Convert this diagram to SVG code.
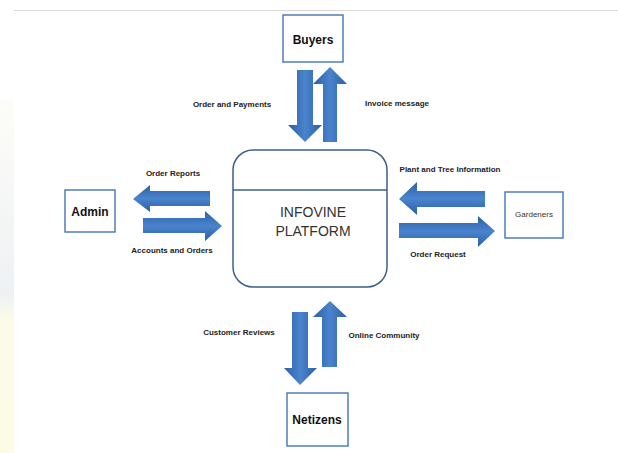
<svg xmlns="http://www.w3.org/2000/svg" width="618" height="453" viewBox="0 0 618 453">
<defs>
<linearGradient id="gv" x1="0" y1="0" x2="1" y2="0">
<stop offset="0" stop-color="#2c5fa8"/><stop offset="0.5" stop-color="#4a84cc"/><stop offset="1" stop-color="#2c5fa8"/>
</linearGradient>
<linearGradient id="gh" x1="0" y1="0" x2="0" y2="1">
<stop offset="0" stop-color="#2c5fa8"/><stop offset="0.5" stop-color="#4a84cc"/><stop offset="1" stop-color="#2c5fa8"/>
</linearGradient>
<linearGradient id="strip" x1="0" y1="0" x2="0" y2="1">
<stop offset="0" stop-color="#fdfdf8"/><stop offset="0.55" stop-color="#eef1f4"/><stop offset="0.62" stop-color="#fbfbe8"/><stop offset="1" stop-color="#fbfbe6"/>
</linearGradient>
</defs>
<style>
.box{fill:#fff;stroke:#4f7fb8;stroke-width:1.5}
.plat{fill:#fff;stroke:#3d5f8a;stroke-width:1.5}
.lbl{font-family:"Liberation Sans",Arial,sans-serif;font-size:8px;font-weight:bold;fill:#222;text-anchor:middle}
.name{font-family:"Liberation Sans",Arial,sans-serif;font-size:12px;font-weight:bold;fill:#111;text-anchor:middle}
.small{font-family:"Liberation Sans",Arial,sans-serif;font-size:8px;fill:#333;text-anchor:middle}
.big{font-family:"Liberation Sans",Arial,sans-serif;font-size:14px;fill:#333;text-anchor:middle}
.av{fill:url(#gv)}
.ah{fill:url(#gh)}
</style>
<rect width="618" height="453" fill="#fff"/>
<rect x="0" y="100" width="14" height="353" fill="url(#strip)"/>
<line x1="14" y1="10.5" x2="618" y2="10.5" stroke="#d8d8d8" stroke-width="1"/>

<g id="connectors">
<!-- Buyers -->
<path class="av" d="M297,70 H313 V125 H322 L305,142 L288,125 H297 Z"/>
<path class="av" d="M323,142 V84 H313 L330,67 L347,84 H337 V142 Z"/>
<!-- Admin -->
<path class="ah" d="M210,191 V206 H150 V212 L133,199 L150,185 V191 Z"/>
<path class="ah" d="M143,218 H205 V211 L222,226 L205,241 V233 H143 Z"/>
<!-- Gardeners -->
<path class="ah" d="M485,191 V207 H417 V215 L399,199 L417,182 V191 Z"/>
<path class="ah" d="M399,223 H478 V216 L495,231 L478,247 V238 H399 Z"/>
<!-- Netizens -->
<path class="av" d="M292,312 H308 V368 H317 L300,385 L284,368 H292 Z"/>
<path class="av" d="M322,367 V317 H313 L330,301 L347,317 H337 V367 Z"/>
</g>

<g id="labels">
<text class="lbl" x="232" y="107">Order and Payments</text>
<text class="lbl" x="397" y="106">Invoice message</text>
<text class="lbl" x="173" y="176">Order Reports</text>
<text class="lbl" x="172" y="253">Accounts and Orders</text>
<text class="lbl" x="450" y="172">Plant and Tree Information</text>
<text class="lbl" x="438" y="257">Order Request</text>
<text class="lbl" x="239" y="335">Customer Reviews</text>
<text class="lbl" x="384" y="338">Online Community</text>
</g>

<g id="buyers">
<rect class="box" x="283" y="15" width="60" height="47"/>
<text class="name" x="313" y="44">Buyers</text>
</g>
<g id="admin">
<rect class="box" x="65" y="190" width="50" height="42"/>
<text class="name" x="90" y="216">Admin</text>
</g>
<g id="gardeners">
<rect class="box" x="505" y="192" width="58" height="46"/>
<text class="small" x="534" y="217">Gardeners</text>
</g>
<g id="netizens">
<rect class="box" x="287" y="393" width="61" height="53"/>
<text class="name" x="317" y="424">Netizens</text>
</g>
<g id="platform">
<rect class="plat" x="233" y="150" width="154" height="137" rx="20" ry="20"/>
<line x1="233" y1="190" x2="387" y2="190" stroke="#3d5f8a" stroke-width="1.5"/>
<text class="big" x="313" y="217">INFOVINE</text>
<text class="big" x="313" y="236">PLATFORM</text>
</g>
</svg>
